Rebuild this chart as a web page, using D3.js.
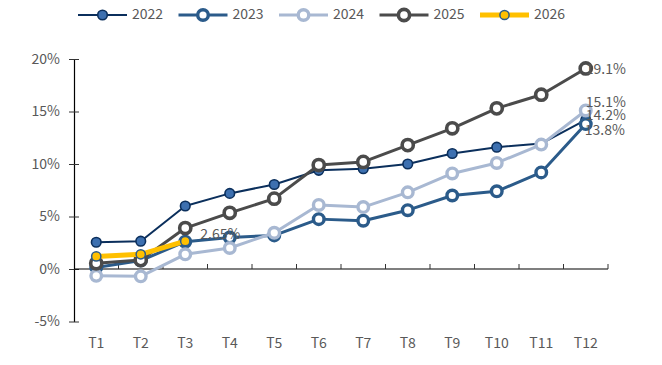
<!DOCTYPE html>
<html>
<head>
<meta charset="utf-8">
<script src="https://cdn.jsdelivr.net/npm/d3@7/dist/d3.min.js"></script>
<style>
  html, body { margin: 0; padding: 0; background: #fff; }
  svg text { font-family: "Noto Sans CJK SC", "Noto Sans", sans-serif; fill: #595959; font-size: 14px; }
</style>
</head>
<body>
<svg id="chart" width="662" height="365"></svg>
<script>
// Monthly periods and cumulative growth (%) per year
const months = ["T1","T2","T3","T4","T5","T6","T7","T8","T9","T10","T11","T12"];
const years = ["2022","2023","2024","2025","2026"];
const y2022 = [2.55, 2.65, 6.0, 7.2, 8.05, 9.4, 9.55, 10.0, 11.0, 11.6, 11.95, 14.2];
const y2023 = [0.15, 0.8, 2.6, 3.0, 3.2, 4.75, 4.6, 5.6, 7.0, 7.4, 9.2, 13.8];
const y2024 = [-0.65, -0.7, 1.4, 2.0, 3.45, 6.1, 5.9, 7.3, 9.1, 10.1, 11.85, 15.1];
const y2025 = [0.55, 0.85, 3.9, 5.35, 6.7, 9.9, 10.2, 11.8, 13.4, 15.3, 16.6, 19.1];
const y2026 = [1.2, 1.4, 2.65];
const yTicks = [-5, 0, 5, 10, 15, 20];

const styles = {
  "2022": { line: "#0b2f5c", width: 2,   r: 4.8, fill: "#3d70b0", stroke: "#0b2f5c", sw: 1.6 },
  "2023": { line: "#2b5b8a", width: 3,   r: 5.3, fill: "#ffffff", stroke: "#2b5b8a", sw: 3.4 },
  "2024": { line: "#a8b8d2", width: 3,   r: 5.3, fill: "#ffffff", stroke: "#a8b8d2", sw: 3.4 },
  "2025": { line: "#4b4b4b", width: 3,   r: 5.6, fill: "#ffffff", stroke: "#4b4b4b", sw: 3.6 },
  "2026": { line: "#ffc000", width: 5,   r: 4.6, fill: "#ffc000", stroke: "#2b5b8a", sw: 1.5 }
};
const seriesValues = { "2022": y2022, "2023": y2023, "2024": y2024, "2025": y2025, "2026": y2026 };

const svg = d3.select("#chart");
const x = d3.scaleBand().domain(months).range([74, 608]);
const y = d3.scaleLinear().domain([-5, 20]).range([321.5, 59]);
const cx = m => x(m) + x.bandwidth() / 2;

// Y axis
const yAxis = svg.append("g").attr("transform", "translate(74,0)")
  .call(d3.axisLeft(y).tickValues(yTicks).tickFormat(d => d + "%").tickSizeOuter(0).tickSizeInner(5).tickPadding(9));
yAxis.select(".domain").attr("stroke", "#000").attr("stroke-width", 1.2);
yAxis.selectAll(".tick line").attr("x2", 5).attr("x1", -5).attr("stroke", "#333");
yAxis.selectAll(".tick text").attr("font-size", 14).attr("fill", "#595959");

// X axis along zero line with inward ticks at band boundaries
svg.append("line").attr("x1", 74).attr("x2", 608).attr("y1", y(0)).attr("y2", y(0))
  .attr("stroke", "#000").attr("stroke-width", 1.2);
const bounds = months.map(m => x(m) + x.bandwidth());
svg.selectAll(".xtick").data(bounds).join("line")
  .attr("x1", d => d).attr("x2", d => d).attr("y1", y(0)).attr("y2", y(0) - 5)
  .attr("stroke", "#333").attr("stroke-width", 1);
svg.selectAll(".xlabel").data(months).join("text")
  .attr("x", d => cx(d)).attr("y", 348).attr("text-anchor", "middle").text(d => d);

// Series lines and markers
const line = d3.line().x((d, i) => cx(months[i])).y(d => y(d));
years.forEach(yr => {
  const s = styles[yr], vals = seriesValues[yr];
  const g = svg.append("g");
  g.append("path").datum(vals).attr("d", line).attr("fill", "none")
    .attr("stroke", s.line).attr("stroke-width", s.width).attr("stroke-linejoin", "round");
  g.selectAll("circle").data(vals).join("circle")
    .attr("cx", (d, i) => cx(months[i])).attr("cy", d => y(d)).attr("r", s.r)
    .attr("fill", s.fill).attr("stroke", s.stroke).attr("stroke-width", s.sw);
});

// Value labels
const labels = [
  { v: y2025[11], m: "T12", dx: 0, dy: 2 },
  { v: y2024[11], m: "T12", dx: 0, dy: -7 },
  { v: y2022[11], m: "T12", dx: 0, dy: -4 },
  { v: y2023[11], m: "T12", dx: -1, dy: 7 },
  { v: y2026[2],  m: "T3",  dx: 15, dy: -6 }
];
svg.selectAll(".vlabel").data(labels).join("text")
  .attr("x", d => cx(d.m) + d.dx + (d.m === "T12" ? 0 : 0))
  .attr("y", d => y(d.v) + d.dy)
  .attr("dominant-baseline", "middle")
  .text(d => d.v.toFixed(d.v === 2.65 ? 2 : 1) + "%");

// Legend
const legend = svg.append("g");
years.forEach((yr, i) => {
  const s = styles[yr], x0 = 78 + i * 100.5, yy = 15;
  legend.append("line").attr("x1", x0).attr("x2", x0 + 49).attr("y1", yy).attr("y2", yy)
    .attr("stroke", s.line).attr("stroke-width", s.width);
  legend.append("circle").attr("cx", x0 + 24.5).attr("cy", yy).attr("r", s.r)
    .attr("fill", s.fill).attr("stroke", s.stroke).attr("stroke-width", s.sw);
  legend.append("text").attr("x", x0 + 54).attr("y", yy).attr("dominant-baseline", "middle").text(yr);
});
</script>
</body>
</html>
